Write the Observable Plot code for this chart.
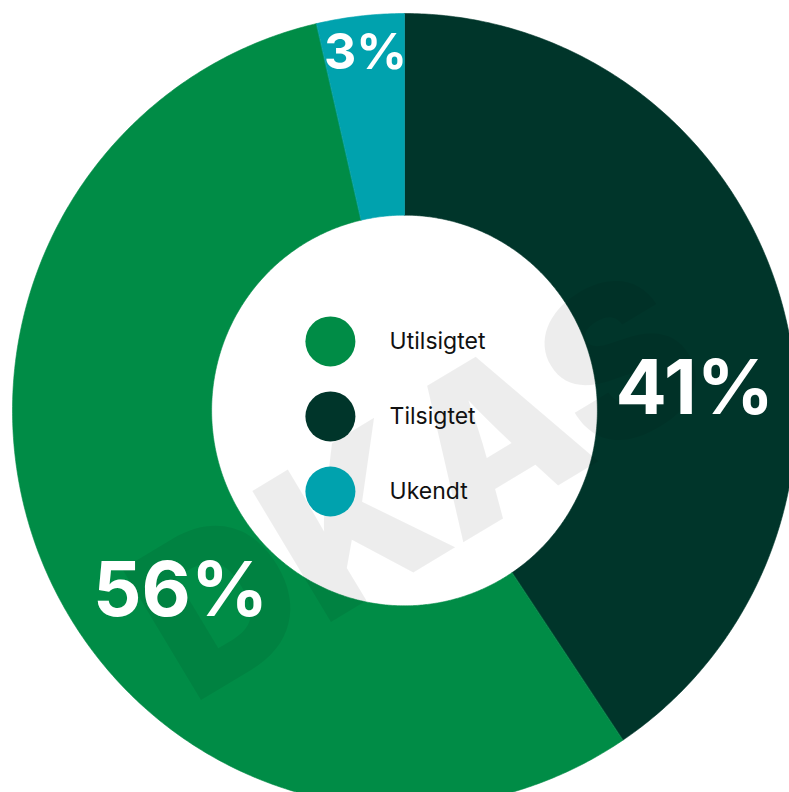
<!DOCTYPE html>
<html><head><meta charset="utf-8">
<script src="https://cdn.jsdelivr.net/npm/d3@7"></script>
<script src="https://cdn.jsdelivr.net/npm/@observablehq/plot@0.6"></script>
<style>html,body{margin:0;padding:0;background:#fff;overflow:hidden} svg{display:block}</style>
</head><body><div id="chart"></div>
<script>
// Data (slices clockwise from 12 o'clock)
const categories = ["Tilsigtet", "Utilsigtet", "Ukendt"];
const shares = [40.6, 55.8, 3.6];          // slice sizes as drawn
const labelTexts = ["41%", "56%", "3%"];   // printed labels
const legendOrder = ["Utilsigtet", "Tilsigtet", "Ukendt"];
const colors = ["#00352a", "#008c46", "#00a2ae"];
const watermark = ["DKAS"];

// Layout (unit ring: outer radius 1)
const inner = 0.492;
const labelLayout = {
  Tilsigtet: {angle: 86, r: 0.742, size: 76},
  Utilsigtet: {angle: 231.4, r: 0.731, size: 76},
  Ukendt: {angle: 353.7, r: 0.905, size: 50}
};

const data = categories.map((c, i) => ({key: c, value: shares[i], label: labelTexts[i]}));
const arcs = d3.pie().sort(null).value(d => d.value)(data);

const poly = [];
for (const a of arcs) {
  const n = Math.max(4, Math.ceil((a.endAngle - a.startAngle) / (Math.PI / 360)));
  for (let k = 0; k <= n; k++) {
    const t = a.startAngle + (a.endAngle - a.startAngle) * k / n;
    poly.push({key: a.data.key, x: Math.sin(t), y: -Math.cos(t)});
  }
  for (let k = n; k >= 0; k--) {
    const t = a.startAngle + (a.endAngle - a.startAngle) * k / n;
    poly.push({key: a.data.key, x: inner * Math.sin(t), y: -inner * Math.cos(t)});
  }
}

const labels = data.map(d => {
  const L = labelLayout[d.key];
  const t = L.angle * Math.PI / 180;
  return {key: d.key, text: d.label, x: L.r * Math.sin(t), y: -L.r * Math.cos(t), size: L.size};
});

const legend = legendOrder.map((c, i) => ({key: c, x: -0.189, y: -0.174 + i * 0.189}));

const chart = Plot.plot({
  width: 789,
  height: 792,
  margin: 0,
  x: {domain: [-1, 1], range: [12, 796], axis: null},
  y: {domain: [-1, 1], range: [13, 807], axis: null},
  color: {domain: categories, range: colors},
  style: {background: "#fff", overflow: "hidden"},
  marks: [
    Plot.line(poly, {x: "x", y: "y", z: "key", fill: "key", stroke: "key", strokeWidth: 0.6, curve: "linear-closed"}),
    Plot.text(watermark, {x: 0.04, y: 0.2, text: d => d, rotate: -31, fontSize: 210, fontWeight: 900,
      fontFamily: "Inter", fill: "#000", fillOpacity: 0.07}),
    Plot.text(labels.filter(d => d.size > 60), {x: "x", y: "y", text: "text", fill: "white", fontSize: 76,
      fontWeight: 700, fontFamily: "Inter", textAnchor: "middle", lineAnchor: "middle"}),
    Plot.text(labels.filter(d => d.size < 60), {x: "x", y: "y", text: "text", fill: "white", fontSize: 50,
      fontWeight: 700, fontFamily: "Inter", textAnchor: "middle", lineAnchor: "middle"}),
    Plot.dot(legend, {x: "x", y: "y", r: 25, fill: "key", stroke: null}),
    Plot.text(legend, {x: -0.038, y: "y", text: "key", textAnchor: "start", lineAnchor: "middle",
      fontSize: 23, fontFamily: "Inter", fill: "#111"})
  ]
});
document.getElementById("chart").append(chart);
</script>
</body></html>
